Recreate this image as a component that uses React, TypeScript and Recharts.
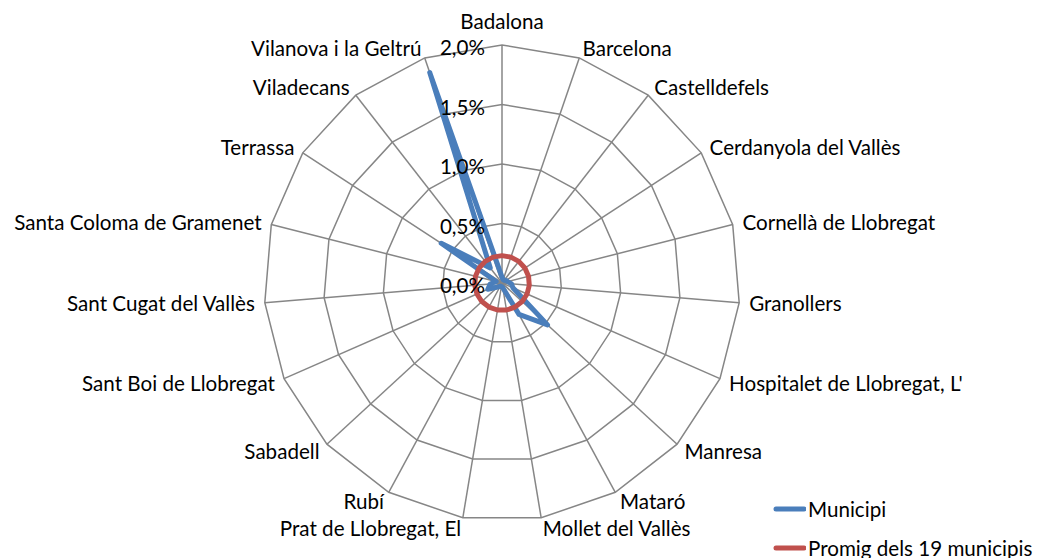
import React from 'react';
import { RadarChart, Radar, PolarGrid, PolarAngleAxis, PolarRadiusAxis, Legend } from 'recharts';

const categories = [
  'Badalona',
  'Barcelona',
  'Castelldefels',
  'Cerdanyola del Vallès',
  'Cornellà de Llobregat',
  'Granollers',
  "Hospitalet de Llobregat, L'",
  'Manresa',
  'Mataró',
  'Mollet del Vallès',
  'Prat de Llobregat, El',
  'Rubí',
  'Sabadell',
  'Sant Boi de Llobregat',
  'Sant Cugat del Vallès',
  'Santa Coloma de Gramenet',
  'Terrassa',
  'Viladecans',
  'Vilanova i la Geltrú',
];

const municipiValues = [
  0.05, 0.03, 0.03, 0.04, 0.05, 0.08, 0.1, 0.52, 0.3, 0.04,
  0.03, 0.03, 0.05, 0.13, 0.1, 0.05, 0.61, 0.16, 1.87,
];

const promigValues = [
  0.23, 0.23, 0.23, 0.23, 0.23, 0.23, 0.23, 0.23, 0.23, 0.23,
  0.23, 0.23, 0.23, 0.23, 0.23, 0.23, 0.23, 0.23, 0.23,
];

const seriesNames = ['Municipi', 'Promig dels 19 municipis'];
const radiusTicks = [0, 0.5, 1, 1.5, 2];

const BLUE = '#4A7EBB';
const RED = '#C0504D';
const GRID = '#868686';
const FONT = 'Lato, "Noto Sans", sans-serif';
const FONT_SIZE = 20.6;

const data = categories.map((name, i) => ({
  name,
  municipi: municipiValues[i],
  promig: promigValues[i],
}));

const AngleTick = (props: any) => {
  const { x, y, payload } = props;
  const angle = (payload.coordinate * Math.PI) / 180;
  const cos = Math.cos(angle);
  const sin = Math.sin(angle);
  let tx = x + 2 * cos;
  let ty = y - 2 * sin;
  let anchor = 'middle';
  if (cos > 0.1) anchor = 'start';
  else if (cos < -0.1) anchor = 'end';
  else if (sin > 0) ty -= 14;
  else ty += 6;
  return (
    <text
      x={tx}
      y={ty}
      textAnchor={anchor}
      dominantBaseline="central"
      fontFamily={FONT}
      fontSize={FONT_SIZE}
      fill="#000"
    >
      {payload.value}
    </text>
  );
};

const RadiusTick = (props: any) => {
  const { x, y, payload } = props;
  const label = Number(payload.value).toFixed(1).replace('.', ',') + '%';
  return (
    <text
      x={x - 17}
      y={y + 2}
      textAnchor="end"
      dominantBaseline="central"
      fontFamily={FONT}
      fontSize={FONT_SIZE}
      fill="#000"
    >
      {label}
    </text>
  );
};

const LegendContent = () => {
  const items = [
    { name: seriesNames[0], color: BLUE },
    { name: seriesNames[1], color: RED },
  ];
  return (
    <div style={{ fontFamily: FONT, fontSize: FONT_SIZE, color: '#000' }}>
      {items.map((it) => (
        <div key={it.name} style={{ display: 'flex', alignItems: 'center', height: 39 }}>
          <svg width={34} height={10} style={{ marginRight: 2 }}>
            <line x1={4} y1={5} x2={32} y2={5} stroke={it.color} strokeWidth={5} strokeLinecap="round" />
          </svg>
          <span style={{ whiteSpace: 'nowrap' }}>{it.name}</span>
        </div>
      ))}
    </div>
  );
};

export default function App() {
  return (
    <div style={{ position: 'absolute', left: 0, top: 0, width: 1040, height: 558, background: '#fff' }}>
      <RadarChart
        width={1040}
        height={558}
        data={data}
        cx={502}
        cy={283}
        outerRadius={238}
        margin={{ top: 0, right: 0, bottom: 0, left: 0 }}
      >
        <PolarGrid gridType="polygon" stroke={GRID} strokeWidth={1.5} />
        <PolarAngleAxis dataKey="name" tick={AngleTick} tickLine={false} axisLine={false} />
        <PolarRadiusAxis
          angle={90}
          domain={[0, 2]}
          ticks={radiusTicks}
          tickCount={5}
          tick={RadiusTick}
          axisLine={false}
          tickLine={false}
        />
        <Radar
          name={seriesNames[0]}
          dataKey="municipi"
          stroke={BLUE}
          strokeWidth={5}
          strokeLinejoin="round"
          fill="none"
          fillOpacity={0}
          dot={false}
          isAnimationActive={false}
        />
        <Radar
          name={seriesNames[1]}
          dataKey="promig"
          stroke={RED}
          strokeWidth={5}
          strokeLinejoin="round"
          fill="none"
          fillOpacity={0}
          dot={false}
          isAnimationActive={false}
        />
        <Legend
          content={LegendContent}
          wrapperStyle={{ position: 'absolute', left: 772, top: 489, width: 268 }}
        />
      </RadarChart>
    </div>
  );
}
